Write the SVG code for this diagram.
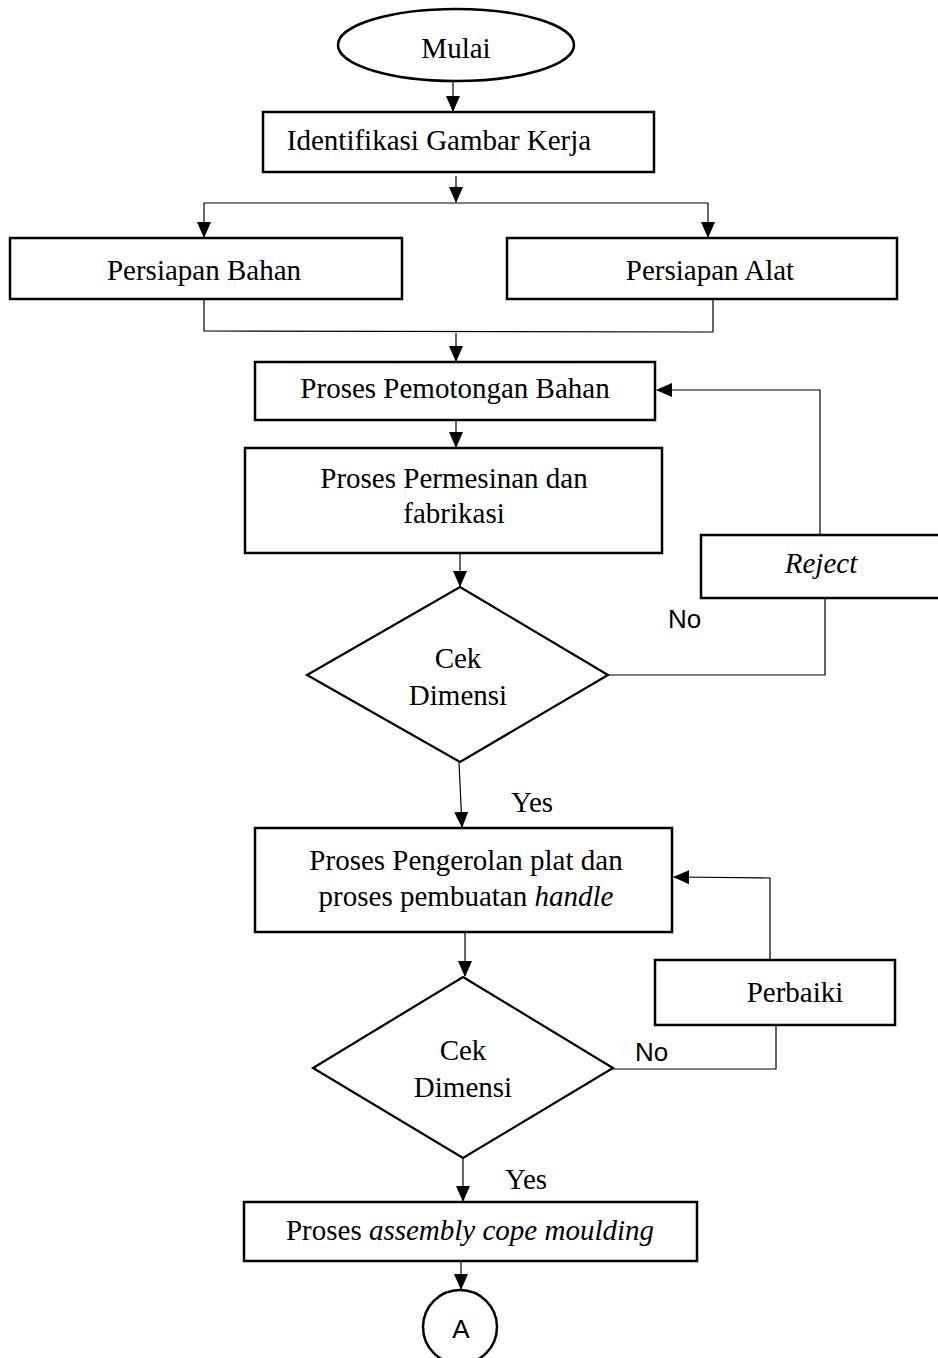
<svg xmlns="http://www.w3.org/2000/svg" width="938" height="1358" viewBox="0 0 938 1358">
<style>
.box{fill:#fff;stroke:#000;stroke-width:2.5}
.dia{fill:#fff;stroke:#000;stroke-width:2.2}
.t{font-family:"Liberation Serif","Times New Roman",serif;font-size:29px;fill:#000;text-anchor:middle}
.s{font-family:"Liberation Sans",Arial,sans-serif;font-size:26px;fill:#000}
.ln{fill:none;stroke:#000;stroke-width:1.2}
</style>
<defs>
<marker id="ah" markerWidth="16" markerHeight="14" refX="15" refY="7" orient="auto" markerUnits="userSpaceOnUse">
<path d="M0,0 L16,7 L0,14 Z" fill="#000"/>
</marker>
</defs>
<g id="connectors">
<line class="ln" x1="453" y1="82" x2="453" y2="111" marker-end="url(#ah)"/>
<line class="ln" x1="456" y1="176" x2="456" y2="202" marker-end="url(#ah)"/>
<line class="ln" x1="204" y1="203" x2="708" y2="203"/>
<line class="ln" x1="204" y1="203" x2="204" y2="237" marker-end="url(#ah)"/>
<line class="ln" x1="708" y1="203" x2="708" y2="237" marker-end="url(#ah)"/>
<polyline class="ln" points="204,299 204,331 713,332 713,299"/>
<line class="ln" x1="456" y1="333" x2="456" y2="361" marker-end="url(#ah)"/>
<line class="ln" x1="456" y1="420" x2="456" y2="447" marker-end="url(#ah)"/>
<line class="ln" x1="460" y1="553" x2="460" y2="586" marker-end="url(#ah)"/>
<polyline class="ln" points="608,675 825,675 825,598"/>
<polyline class="ln" points="820,535 820,390 657,390" marker-end="url(#ah)"/>
<line class="ln" x1="459" y1="762" x2="462" y2="827" marker-end="url(#ah)"/>
<line class="ln" x1="465" y1="932" x2="465" y2="976" marker-end="url(#ah)"/>
<polyline class="ln" points="613,1069 776,1069 776,1025"/>
<polyline class="ln" points="770,960 770,878 674,877" marker-end="url(#ah)"/>
<line class="ln" x1="463" y1="1152" x2="463" y2="1201" marker-end="url(#ah)"/>
<line class="ln" x1="461" y1="1262" x2="461" y2="1289" marker-end="url(#ah)"/>
</g>
<g id="mulai">
<ellipse class="box" cx="456" cy="45" rx="118" ry="36" stroke-width="2"/>
<text class="t" x="456" y="58">Mulai</text>
</g>
<g id="identifikasi">
<rect class="box" x="263" y="112" width="391" height="60"/>
<text class="t" x="439" y="150">Identifikasi Gambar Kerja</text>
</g>
<g id="bahan">
<rect class="box" x="10" y="238" width="392" height="61"/>
<text class="t" x="204" y="280">Persiapan Bahan</text>
</g>
<g id="alat">
<rect class="box" x="507" y="238" width="390" height="61"/>
<text class="t" x="710" y="280">Persiapan Alat</text>
</g>
<g id="pemotongan">
<rect class="box" x="255" y="362" width="400" height="58"/>
<text class="t" x="455" y="398">Proses Pemotongan Bahan</text>
</g>
<g id="permesinan">
<rect class="box" x="245" y="448" width="417" height="105"/>
<text class="t" x="454" y="488">Proses Permesinan dan</text>
<text class="t" x="454" y="523">fabrikasi</text>
</g>
<g id="cek1">
<polygon class="dia" points="460,587 608,675 460,762 307,675"/>
<text class="t" x="458" y="668">Cek</text>
<text class="t" x="458" y="705">Dimensi</text>
</g>
<g id="reject">
<rect class="box" x="701" y="535" width="250" height="63"/>
<text class="t" x="821" y="573" font-style="italic">Reject</text>
</g>
<text class="s" x="668" y="628">No</text>
<text class="t" x="532" y="812">Yes</text>
<g id="pengerolan">
<rect class="box" x="255" y="828" width="417" height="104"/>
<text class="t" x="466" y="870">Proses Pengerolan plat dan</text>
<text class="t" x="466" y="906">proses pembuatan <tspan font-style="italic">handle</tspan></text>
</g>
<g id="perbaiki">
<rect class="box" x="655" y="960" width="240" height="65"/>
<text class="t" x="795" y="1002">Perbaiki</text>
</g>
<g id="cek2">
<polygon class="dia" points="463,977 613,1068 463,1158 313,1068"/>
<text class="t" x="463" y="1060">Cek</text>
<text class="t" x="463" y="1097">Dimensi</text>
</g>
<text class="s" x="635" y="1061">No</text>
<text class="t" x="526" y="1189">Yes</text>
<g id="assembly">
<rect class="box" x="244" y="1202" width="453" height="59"/>
<text class="t" x="470" y="1240">Proses <tspan font-style="italic">assembly cope moulding</tspan></text>
</g>
<g id="a">
<circle class="box" cx="460" cy="1327" r="37" stroke-width="2"/>
<text class="s" x="461" y="1338" text-anchor="middle" font-size="24">A</text>
</g>
</svg>
